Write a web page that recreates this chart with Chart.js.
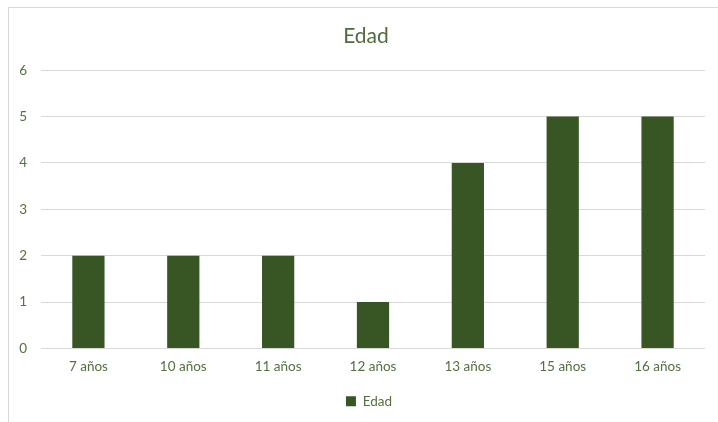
<!DOCTYPE html>
<html>
<head>
<meta charset="utf-8">
<script src="https://cdn.jsdelivr.net/npm/chart.js@4"></script>
<style>
  html, body { margin: 0; padding: 0; background: #fff; overflow: hidden; }
  #wrap { position: relative; width: 718px; height: 422px; }
  #frame { position: absolute; left: 8px; top: 7px; width: 730px; height: 440px; border: 1px solid #d9d9d9; box-sizing: border-box; }
  canvas { position: absolute; left: 0; top: 0; }
</style>
</head>
<body>
<div id="wrap">
  <div id="frame"></div>
  <canvas id="chart" width="718" height="422"></canvas>
</div>
<script>
const categories = ['7 años', '10 años', '11 años', '12 años', '13 años', '15 años', '16 años'];
const edadValues = [2, 2, 2, 1, 4, 5, 5];
const yTicks = [0, 1, 2, 3, 4, 5, 6];

const textColor = '#557041';
const fontFamily = 'Lato, "Open Sans", sans-serif';

// the original centres title and legend on the frame, not on the plot
const shiftBlocks = {
  id: 'shiftBlocks',
  afterLayout(chart) {
    chart.titleBlock.left = 27;
    chart.legend.left = 33;
  },
};

const ctx = document.getElementById('chart').getContext('2d');
new Chart(ctx, {
  type: 'bar',
  data: {
    labels: categories,
    datasets: [
      {
        label: 'Edad',
        data: edadValues,
        backgroundColor: '#375623',
        borderWidth: 0,
        categoryPercentage: 1.0,
        barPercentage: 0.34,
      },
    ],
  },
  plugins: [shiftBlocks],
  options: {
    responsive: false,
    animation: false,
    layout: {
      padding: { left: 0, right: 13, top: 0, bottom: 4 },
    },
    plugins: {
      title: {
        display: true,
        text: 'Edad',
        color: '#4f6b3b',
        font: { family: fontFamily, size: 21, weight: 'normal' },
        padding: { top: 24, bottom: 21 },
      },
      legend: {
        position: 'bottom',
        labels: {
          color: textColor,
          font: { family: fontFamily, size: 13.5 },
          boxWidth: 10,
          boxHeight: 10,
          padding: 10,
        },
      },
      tooltip: { enabled: false },
    },
    scales: {
      x: {
        grid: { display: false, drawTicks: false },
        border: { display: false },
        ticks: {
          color: textColor,
          font: { family: fontFamily, size: 13.5 },
          padding: 10,
          maxRotation: 0,
        },
        afterFit: (scale) => { scale.height = 36; },
      },
      y: {
        min: 0,
        max: 6,
        afterBuildTicks: (scale) => { scale.ticks = yTicks.map(v => ({ value: v })); },
        grid: { color: '#d9d9d9', lineWidth: 1, drawTicks: false },
        border: { display: false },
        ticks: {
          color: textColor,
          font: { family: fontFamily, size: 13.5 },
          padding: 14,
        },
        afterFit: (scale) => { scale.width = 41; },
      },
    },
  },
});
</script>
</body>
</html>
